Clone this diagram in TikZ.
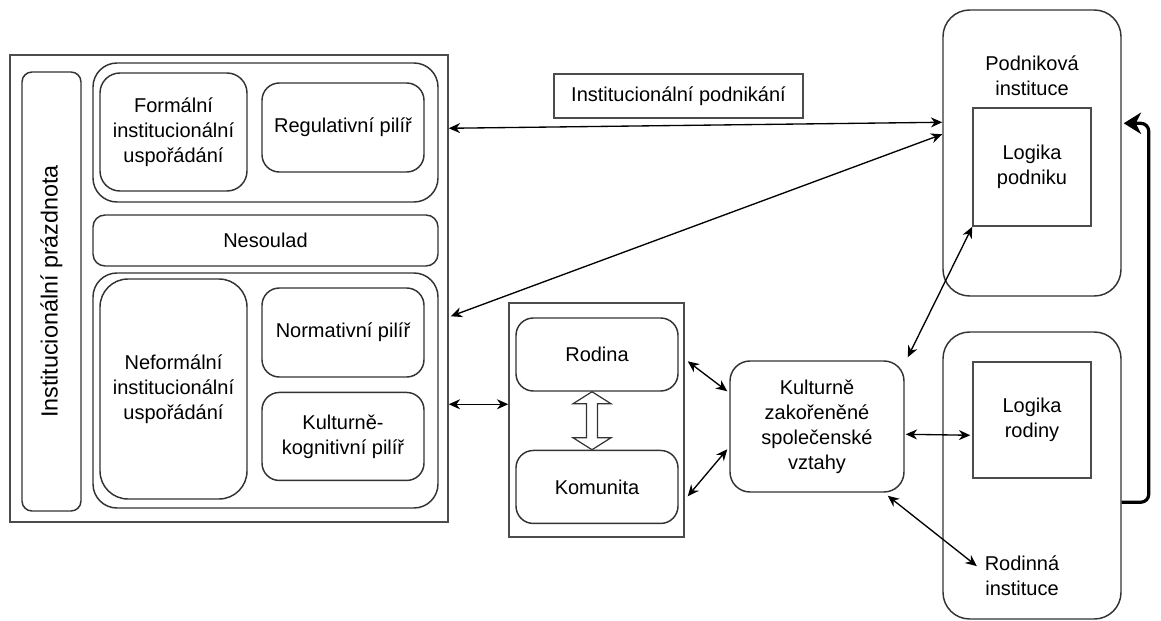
\documentclass[tikz,border=0pt]{standalone}
\usepackage{fontspec}
\setmainfont{Liberation Sans}
\usetikzlibrary{arrows.meta, positioning, calc}

\begin{document}
\begin{tikzpicture}[
  x=0.75pt, y=-0.75pt,
  >={Stealth[length=8.5pt, width=7.5pt]},
  every node/.style={font=\fontsize{15}{18.75}\selectfont, align=center, inner sep=2pt},
  sz/.style 2 args={minimum width=#1*0.75pt, minimum height=#2*0.75pt},
  box/.style={draw=black!80, line width=1.1pt, rounded corners=#1},
  box/.default=13pt,
  ramec/.style={draw=black!70, line width=1.1pt},
  link/.style={<->, line width=1pt},
  zpet/.style={-{Stealth[length=13pt, width=16pt, inset=4pt]}, line width=2.4pt, rounded corners=6pt}
]
  \useasboundingbox (0,0) rectangle (1161,621);

  % levy blok
  \node[ramec, sz={438}{467}] (pole) at (229,288.5) {};
  \node[box=7.5pt, sz={439}{59}, rotate=90, font=\fontsize{17.5}{21}\selectfont]
    (prazdnota) at (51.5,291.5) {Institucionální prázdnota};

  \node[box=18pt, sz={345}{139}] (formgr) at (265.5,132.5) {};
  \node[box=15pt, sz={147}{118}] (formal) at (173.5,132) {Formální\\institucionální\\uspořádání};
  \node[box, sz={162}{89}] (regul) at (343,127.5) {Regulativní pilíř};

  \node[box=9pt, sz={345}{51}] (nesoulad) at (265.5,240.5) {Nesoulad};

  \node[box=18pt, sz={345}{235}] (neformgr) at (265.5,390.5) {};
  \node[box=21pt, sz={147}{220}] (neformal) at (173.5,389) {Neformální\\institucionální\\uspořádání};
  \node[box, sz={162}{89}] (norm) at (343,332.5) {Normativní pilíř};
  \node[box, sz={162}{88}, below=10.5pt of norm] (kogn) {Kulturně-\\kognitivní pilíř};

  % stred
  \node[draw=black!70, line width=0.9pt, sz={249}{44}] (podnikani) at (678.5,96) {Institucionální podnikání};
  \node[ramec, sz={175}{234}] (okoli) at (596.5,420) {};
  \node[box, sz={162}{73}] (rodina) at (597,354.5) {Rodina};
  \node[box, sz={162}{73}, below=43.5pt of rodina] (komunita) {Komunita};
  \node[box=15pt, sz={174}{131}] (vztahy) at (817,426.5) {Kulturně\\zakořeněné\\společenské\\vztahy};

  % vpravo
  \node[box=20pt, sz={178}{286}] (podnik) at (1032,153) {};
  \node (podniktext) at (1032,76) {Podniková\\instituce};
  \node[ramec, sz={118}{118}] (logpod) at (1032,167) {Logika\\podniku};
  \node[box=20pt, sz={178}{287}] (rodinst) at (1032,475.5) {};
  \node[ramec, sz={118}{116}] (logrod) at (1032,420) {Logika\\rodiny};
  \node (rodtext) at (1022,576) {Rodinná\\instituce};

  % dutá šipka rodina -- komunita
  \coordinate (h1) at ($(rodina.south)+(-5,0)$);
  \coordinate (h2) at ($(komunita.north)+(-5,0)$);
  \draw[black!80, line width=0.9pt, fill=white]
    (h1) -- ++(19,12) -- ++(-13.5,0) -- ($(h2)+(5.5,-12)$) -- ++(13.5,0) -- (h2)
    -- ++(-19,-12) -- ++(13.5,0) -- ($(h1)+(-5.5,12)$) -- ++(-13.5,0) -- cycle;

  % vazby
  \draw[link] ($(pole.north east)+(0,74)$) -- ($(podnik.north west)+(0,113)$);
  \draw[link] ($(pole.north east)+(2,262)$) -- ($(podnik.north west)+(0,125)$);
  \draw[link] ($(pole.north east)+(0,350)$) -- ($(okoli.north west)+(0,102)$);
  \draw[link] ($(okoli.north east)+(3,59)$) -- ($(vztahy.north west)+(-2,31)$);
  \draw[link] ($(okoli.north east)+(3,194)$) -- ($(vztahy.north west)+(-2,89)$);
  \draw[link] ($(vztahy.north east)+(3,-3)$) -- (logpod.south west);
  \draw[link] ($(vztahy.north east)+(1,74)$) -- ($(logrod.north west)+(-2,74)$);
  \draw[link] ($(vztahy.south east)+(-17,3)$) -- ($(rodtext.north west)+(-5,13)$);

  \draw[zpet] ($(rodinst.north east)+(0,171)$) -- ++(27,0) |- ($(podnik.north east)+(2,114)$);
\end{tikzpicture}
\end{document}
